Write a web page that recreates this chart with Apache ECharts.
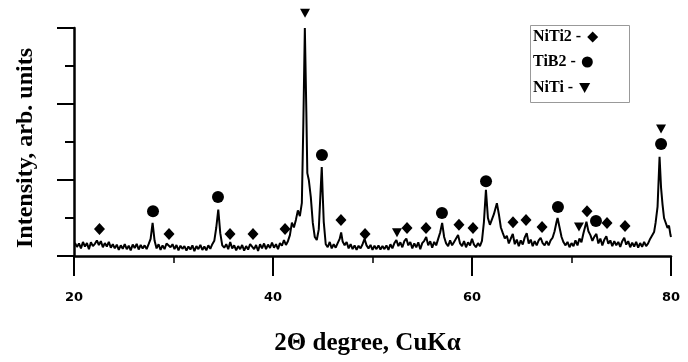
<!DOCTYPE html>
<html>
<head>
<meta charset="utf-8">
<script src="https://cdn.jsdelivr.net/npm/echarts@6/dist/echarts.min.js"></script>
<style>
html,body{margin:0;padding:0;background:#fff;}
#chart{width:688px;height:362px;}
</style>
</head>
<body>
<div id="chart"></div>
<script>
// 2θ positions (degrees) of the XRD trace
var twoTheta = [
20.1,20.3,20.5,20.7,20.9,21.1,21.3,21.5,21.7,21.9,22.1,22.3,22.5,22.7,22.9,23.1,23.3,23.5,23.7,23.9,
24.1,24.3,24.5,24.7,24.9,25.1,25.3,25.5,25.7,25.9,26.1,26.3,26.5,26.7,26.9,27.1,27.3,27.5,27.7,27.9,
28.1,28.3,28.5,28.7,28.9,29.1,29.3,29.5,29.7,29.9,30.1,30.3,30.5,30.7,30.9,31.1,31.3,31.5,31.7,31.9,
32.1,32.3,32.5,32.7,32.9,33.1,33.3,33.5,33.7,33.9,34.1,34.3,34.5,34.7,34.9,35.1,35.3,35.5,35.7,35.9,
36.1,36.3,36.5,36.7,36.9,37.1,37.3,37.5,37.7,37.9,38.1,38.3,38.5,38.7,38.9,39.1,39.3,39.5,39.7,39.9,
40.1,40.3,40.5,40.7,40.9,41.1,41.3,41.5,41.7,41.9,42.1,42.3,42.5,42.7,42.9,43.05,43.2,43.35,43.45,43.6,
43.8,44.0,44.2,44.4,44.6,44.8,44.9,45.0,45.1,45.3,45.5,45.7,45.9,46.1,46.3,46.5,46.7,46.85,47.0,47.2,
47.4,47.6,47.8,48.0,48.2,48.4,48.6,48.8,49.0,49.2,49.4,49.6,49.8,50.0,50.2,50.4,50.6,50.8,51.0,51.2,
51.4,51.6,51.8,52.0,52.2,52.4,52.6,52.8,53.0,53.2,53.4,53.6,53.8,54.0,54.2,54.4,54.6,54.8,55.0,55.2,
55.4,55.6,55.8,56.0,56.2,56.4,56.6,56.8,57.0,57.2,57.4,57.6,57.8,58.0,58.2,58.4,58.6,58.8,59.0,59.2,
59.4,59.6,59.8,60.0,60.2,60.4,60.6,60.8,61.0,61.2,61.4,61.6,61.8,62.0,62.2,62.5,62.7,62.9,63.1,63.3,
63.5,63.7,63.9,64.1,64.3,64.5,64.7,64.9,65.1,65.3,65.5,65.7,65.9,66.1,66.3,66.5,66.7,66.9,67.1,67.3,
67.5,67.7,67.9,68.1,68.3,68.5,68.6,68.8,69.0,69.2,69.4,69.6,69.8,70.0,70.2,70.4,70.6,70.8,71.0,71.2,
71.5,71.7,71.9,72.1,72.3,72.5,72.7,72.9,73.1,73.3,73.5,73.7,73.9,74.1,74.3,74.5,74.7,74.9,75.1,75.3,
75.5,75.7,75.9,76.1,76.3,76.5,76.7,76.9,77.1,77.3,77.5,77.7,77.9,78.1,78.3,78.45,78.65,78.85,79.0,79.15,
79.3,79.5,79.65,79.8,79.95,80.0
];
// Intensity (arb. units) at each 2θ position
var intensity = [
0.34,0.24,0.33,0.20,0.37,0.25,0.34,0.18,0.36,0.26,0.32,0.41,0.29,0.39,0.23,0.34,0.25,0.37,0.22,0.31,
0.20,0.30,0.16,0.28,0.19,0.31,0.18,0.27,0.15,0.30,0.21,0.32,0.17,0.29,0.20,0.28,0.18,0.31,0.45,0.87,
0.40,0.20,0.31,0.16,0.28,0.18,0.33,0.38,0.23,0.31,0.18,0.29,0.15,0.27,0.19,0.26,0.14,0.25,0.17,0.28,
0.13,0.26,0.18,0.29,0.16,0.25,0.15,0.28,0.19,0.31,0.40,0.75,1.22,0.60,0.28,0.22,0.31,0.18,0.37,0.20,
0.28,0.15,0.26,0.18,0.29,0.14,0.26,0.17,0.31,0.35,0.18,0.29,0.13,0.31,0.20,0.33,0.18,0.30,0.21,0.35,
0.22,0.31,0.18,0.34,0.27,0.42,0.29,0.39,0.55,0.88,0.75,0.95,1.20,1.05,1.40,3.50,6.00,3.80,2.18,2.00,
1.55,0.87,0.50,0.42,0.70,1.80,2.34,1.60,0.90,0.31,0.23,0.37,0.20,0.31,0.22,0.34,0.45,0.62,0.38,0.28,
0.37,0.20,0.31,0.18,0.28,0.16,0.27,0.20,0.31,0.45,0.28,0.20,0.29,0.16,0.27,0.18,0.28,0.17,0.26,0.18,
0.28,0.16,0.31,0.20,0.34,0.42,0.26,0.36,0.23,0.39,0.46,0.28,0.37,0.20,0.33,0.23,0.36,0.18,0.34,0.40,
0.50,0.28,0.39,0.22,0.37,0.28,0.45,0.62,0.87,0.50,0.33,0.26,0.41,0.28,0.37,0.42,0.55,0.33,0.26,0.39,
0.23,0.36,0.28,0.45,0.30,0.23,0.34,0.26,0.40,0.90,1.74,1.00,0.82,0.85,1.10,1.39,1.10,0.75,0.60,0.46,
0.53,0.33,0.46,0.58,0.31,0.43,0.26,0.41,0.30,0.49,0.60,0.33,0.43,0.26,0.39,0.28,0.41,0.48,0.34,0.28,
0.39,0.28,0.41,0.48,0.65,0.90,1.00,0.75,0.50,0.36,0.28,0.37,0.23,0.34,0.26,0.41,0.28,0.46,0.36,0.60,
0.90,0.65,0.55,0.40,0.51,0.58,0.33,0.46,0.28,0.43,0.52,0.32,0.41,0.26,0.39,0.28,0.37,0.24,0.39,0.48,
0.30,0.39,0.23,0.35,0.25,0.37,0.22,0.34,0.24,0.37,0.26,0.33,0.45,0.50,0.63,0.87,1.30,2.61,1.80,1.35,
1.00,0.95,0.74,0.80,0.55,0.50
];

// Phase markers: [2θ, marker height]
var niti2Marks = [[22.56,0.71],[29.55,0.58],[35.68,0.58],[37.99,0.58],[41.21,0.71],[46.83,0.95],
  [49.25,0.58],[53.47,0.74],[55.38,0.74],[58.69,0.82],[60.10,0.74],[64.12,0.89],[65.43,0.95],
  [67.04,0.76],[71.56,1.18],[73.57,0.87],[75.38,0.79]];
var tib2Marks = [[27.94,1.18],[34.47,1.55],[44.92,2.66],[56.98,1.13],[61.41,1.97],[68.64,1.29],
  [72.46,0.92],[79.0,2.95]];
var nitiMarks = [[43.22,6.39],[52.46,0.61],[70.75,0.76],[79.0,3.34]];

var xTicks = [20, 40, 60, 80];
var seriesNames = ['NiTi2', 'TiB2', 'NiTi'];

var trace = twoTheta.map(function (t, i) { return [t, intensity[i]]; });
var serif = '"Liberation Serif", "Times New Roman", serif';
var triDown = 'path://M0,0 L10,0 L5,9 Z';
var icons = ['diamond', 'circle', triDown];
var legendTops = [29, 54, 80];

var legends = seriesNames.map(function (n, i) {
  return {
    orient: 'horizontal', left: 533, top: legendTops[i], align: 'right',
    itemWidth: 11, itemHeight: 11, padding: 0,
    data: [{name: n, icon: icons[i]}],
    formatter: function (s) { return s + ' -'; },
    textStyle: {color: '#000', fontSize: 16, fontWeight: 'bold', fontFamily: serif, padding: [0, 1, 0, 0]},
    itemStyle: {color: '#000', opacity: 1}
  };
});

var chart = echarts.init(document.getElementById('chart'), null, {renderer: 'canvas'});
chart.setOption({
  animation: false,
  backgroundColor: '#ffffff',
  grid: {left: 74, right: 17, top: 28, bottom: 106},
  xAxis: {
    type: 'value', min: xTicks[0], max: xTicks[xTicks.length - 1], interval: 20,
    offset: 3,
    axisLine: {lineStyle: {color: '#000', width: 2.5}},
    axisTick: {show: true, inside: false, length: 20, lineStyle: {color: '#000', width: 2}},
    minorTick: {show: true, splitNumber: 2, length: 7, lineStyle: {color: '#000', width: 1.5}},
    splitLine: {show: false},
    axisLabel: {margin: 32, color: '#000', fontSize: 13, fontWeight: 'bold', fontFamily: '"DejaVu Sans", Verdana, sans-serif'},
    name: '2Θ degree, CuKα', nameLocation: 'middle', nameGap: 72,
    nameTextStyle: {color: '#000', fontSize: 25, fontWeight: 'bold', fontFamily: serif, padding: [0, 10, 0, 0]}
  },
  yAxis: {
    type: 'value', min: 0, max: 6, interval: 2,
    axisLine: {show: true, lineStyle: {color: '#000', width: 2.5}},
    axisTick: {show: true, inside: false, length: 17, lineStyle: {color: '#000', width: 2}},
    minorTick: {show: true, splitNumber: 2, length: 9, lineStyle: {color: '#000', width: 2}},
    splitLine: {show: false},
    axisLabel: {show: false},
    name: 'Intensity, arb. units', nameLocation: 'middle', nameGap: 36,
    nameTextStyle: {color: '#000', fontSize: 24, fontWeight: 'bold', fontFamily: serif, padding: [0, 12, 0, 0]}
  },
  legend: legends,
  graphic: [{
    type: 'rect', left: 528, top: 23, shape: {width: 99, height: 77},
    style: {fill: 'none', stroke: '#999', lineWidth: 1}, z: 1
  }],
  series: [
    {type: 'line', name: 'trace', data: trace, showSymbol: false, symbol: 'none',
     lineStyle: {color: '#000', width: 2}, clip: false, z: 3},
    {type: 'scatter', name: seriesNames[0], data: niti2Marks, symbol: 'diamond', symbolSize: [11, 12],
     itemStyle: {color: '#000', opacity: 1}, clip: false, z: 4},
    {type: 'scatter', name: seriesNames[1], data: tib2Marks, symbol: 'circle', symbolSize: 12,
     itemStyle: {color: '#000', opacity: 1}, clip: false, z: 4},
    {type: 'scatter', name: seriesNames[2], data: nitiMarks, symbol: triDown, symbolSize: [10, 9],
     itemStyle: {color: '#000', opacity: 1}, clip: false, z: 4}
  ]
});
</script>
</body>
</html>
